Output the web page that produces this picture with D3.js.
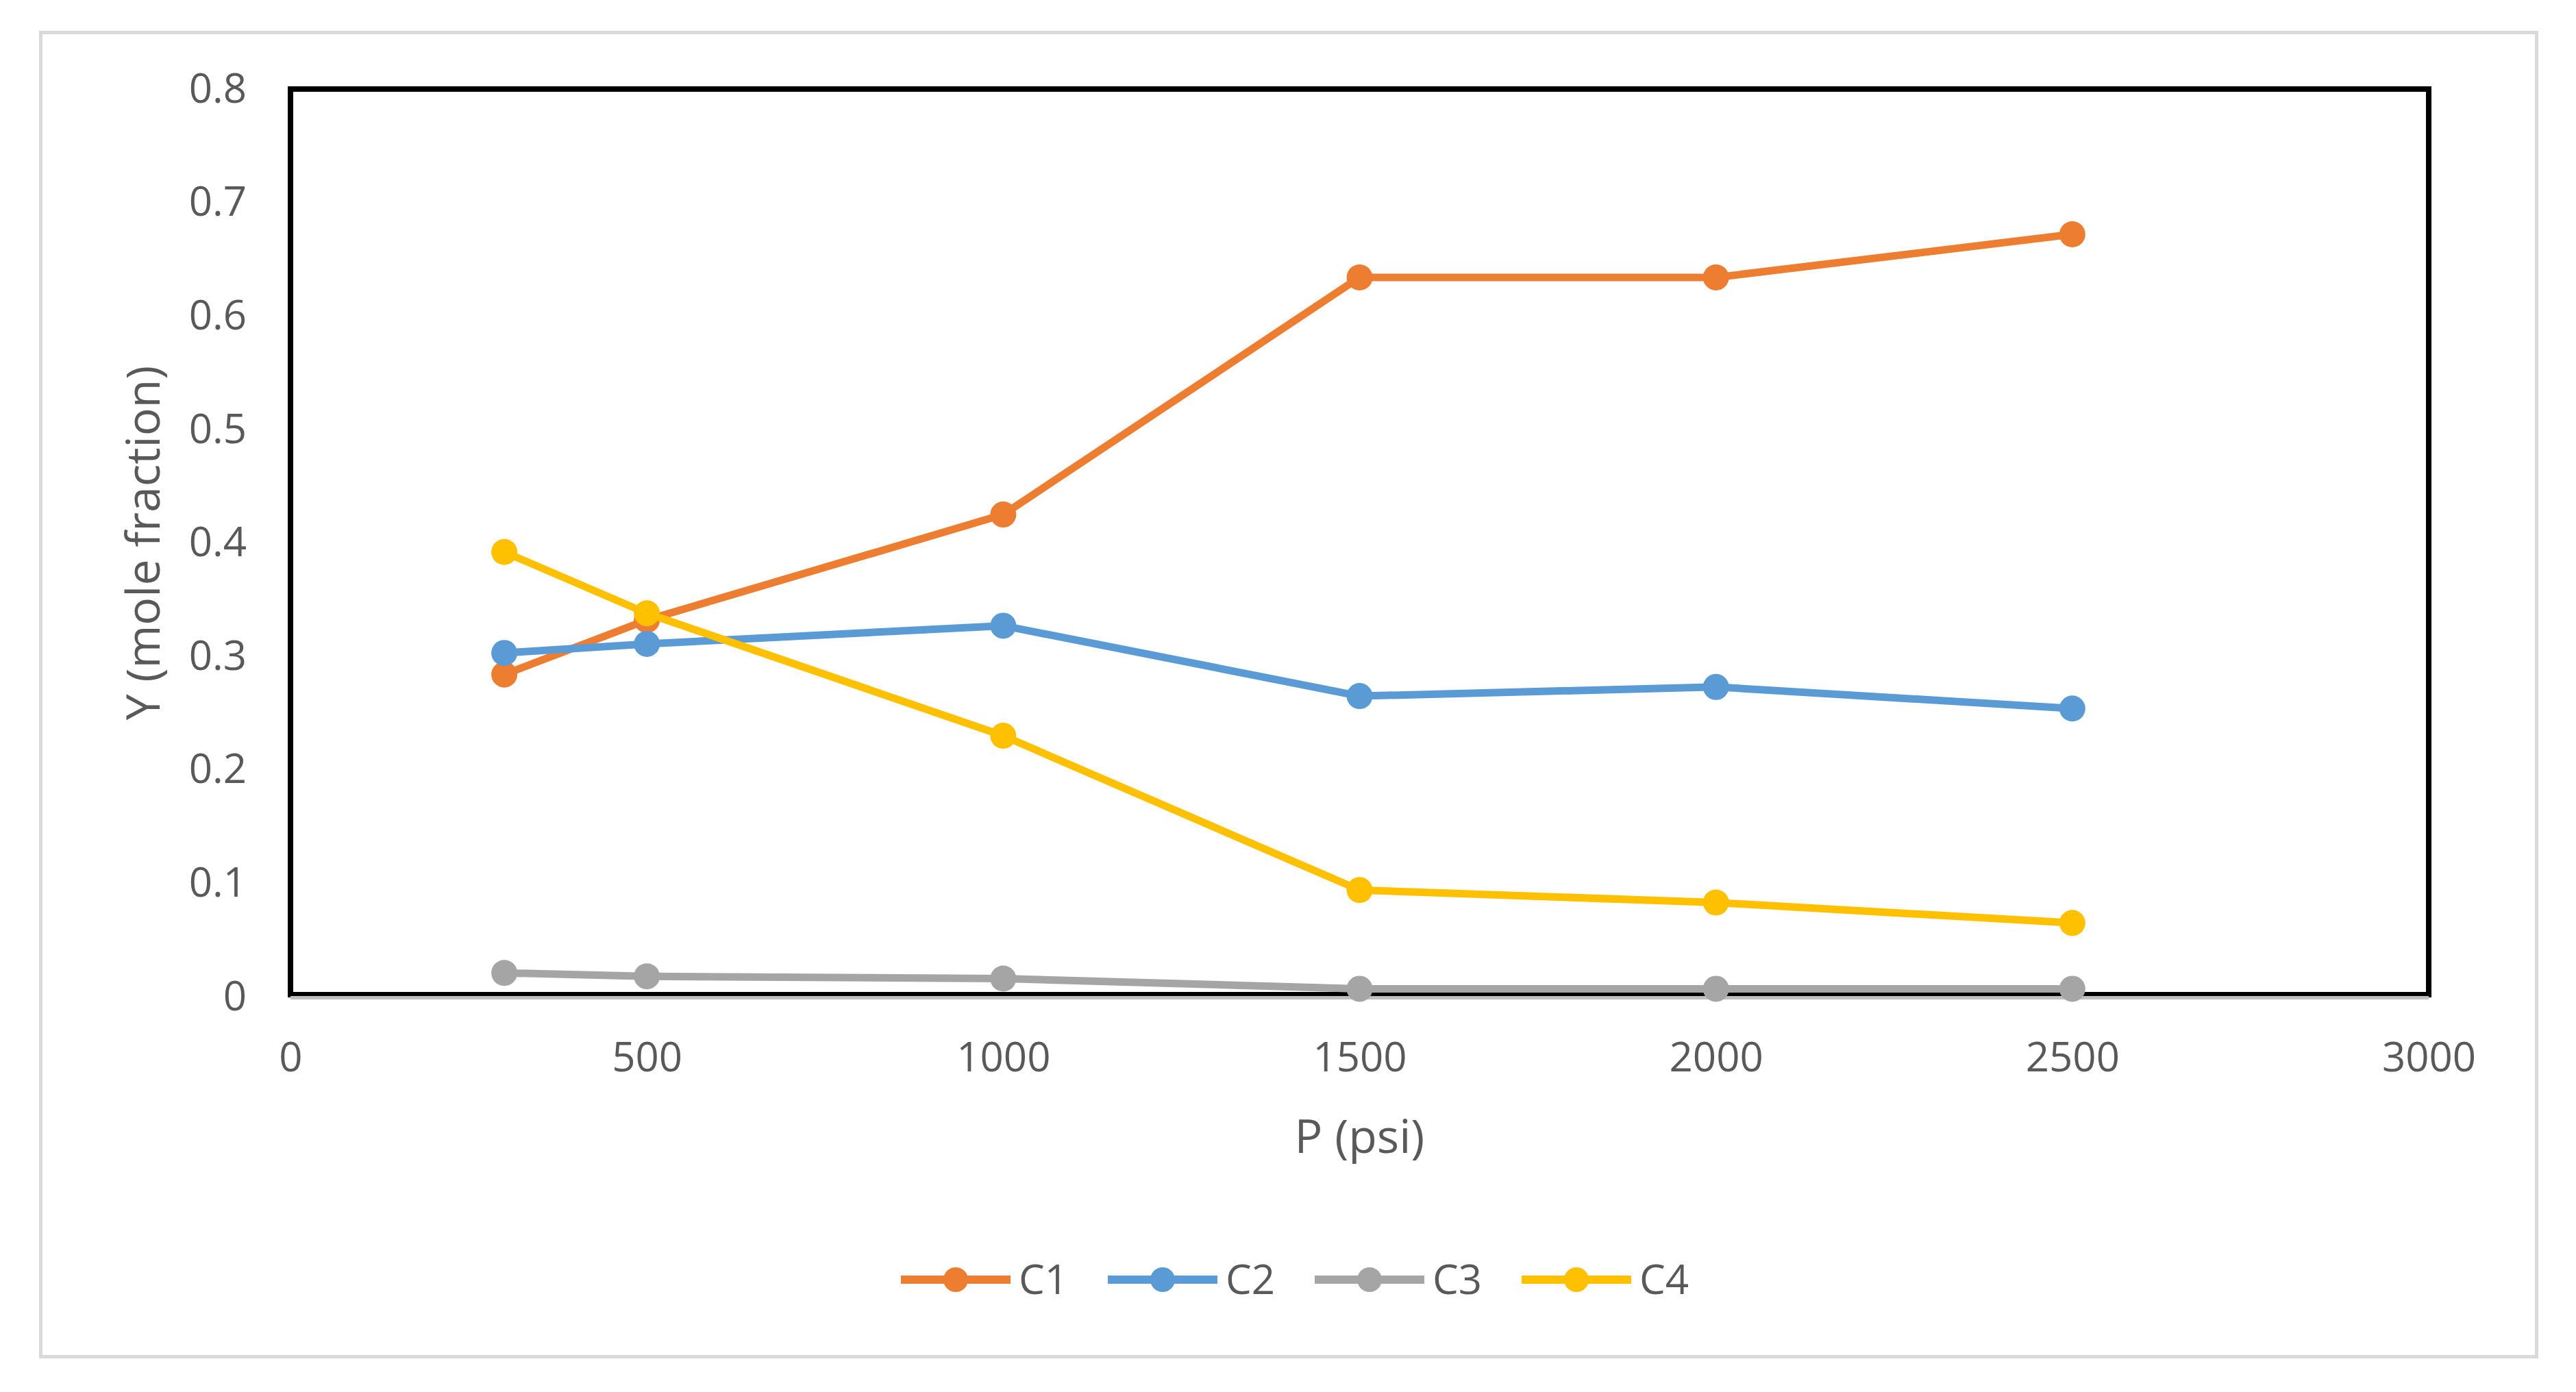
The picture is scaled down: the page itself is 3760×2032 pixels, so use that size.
<!DOCTYPE html>
<html>
<head>
<meta charset="utf-8">
<script src="https://cdn.jsdelivr.net/npm/d3@7"></script>
<style>
  html, body { margin: 0; padding: 0; background: #ffffff; }
  svg { display: block; }
</style>
</head>
<body>
<svg id="chart" width="3760" height="2032"></svg>
<script>
const pressures = [300, 500, 1000, 1500, 2000, 2500];
const seriesNames = ["C1", "C2", "C3", "C4"];
const c1 = [0.284, 0.332, 0.425, 0.634, 0.634, 0.672];
const c2 = [0.303, 0.311, 0.327, 0.265, 0.273, 0.254];
const c3 = [0.021, 0.018, 0.016, 0.007, 0.007, 0.007];
const c4 = [0.392, 0.338, 0.230, 0.094, 0.083, 0.065];
const xTicks = [0, 500, 1000, 1500, 2000, 2500, 3000];
const yTicks = [0, 0.1, 0.2, 0.3, 0.4, 0.5, 0.6, 0.7, 0.8];
const xTitle = "P (psi)";
const yTitle = "Y (mole fraction)";
const colors = ["#ED7D31", "#5B9BD5", "#A5A5A5", "#FFC000"];

const seriesValues = [c1, c2, c3, c4];
const series = seriesNames.map((name, i) => ({
  name, color: colors[i],
  points: pressures.map((p, j) => ({ p, v: seriesValues[i][j] }))
}));

const svg = d3.select("#chart");
const FONT = "'Open Sans', 'Liberation Sans', sans-serif";
const TEXT = "#595959";

// outer chart border
svg.append("rect")
  .attr("x", 59.5).attr("y", 47.5).attr("width", 3643).attr("height", 1933)
  .attr("fill", "#ffffff").attr("stroke", "#d9d9d9").attr("stroke-width", 5);

const x = d3.scaleLinear().domain([0, 3000]).range([424, 3545]);
const y = d3.scaleLinear().domain([0, 0.8]).range([1455, 130]);

// plot area frame
svg.append("rect")
  .attr("x", x(0)).attr("y", y(0.8))
  .attr("width", x(3000) - x(0)).attr("height", y(0) - y(0.8) - 3)
  .attr("fill", "none").attr("stroke", "#000000").attr("stroke-width", 8);

// gray axis line
svg.append("line")
  .attr("x1", x(0)).attr("x2", x(3000))
  .attr("y1", y(0) + 1.5).attr("y2", y(0) + 1.5)
  .attr("stroke", "#bfbfbf").attr("stroke-width", 5);

// axes
const yAxis = svg.append("g")
  .attr("transform", `translate(${x(0)},0)`)
  .call(d3.axisLeft(y).tickValues(yTicks).tickSize(0).tickPadding(64)
    .tickFormat(d => d3.format("")(+d.toFixed(1))));
const xAxis = svg.append("g")
  .attr("transform", `translate(0,${y(0)})`)
  .call(d3.axisBottom(x).tickValues(xTicks).tickSize(0).tickPadding(66)
    .tickFormat(d3.format("d")));
[xAxis, yAxis].forEach(g => {
  g.select(".domain").remove();
  g.selectAll("text").attr("font-family", FONT).attr("font-size", 60).attr("fill", TEXT);
});

// axis titles
svg.append("text")
  .attr("x", (x(0) + x(3000)) / 2).attr("y", 1659).attr("dy", "0.35em")
  .attr("text-anchor", "middle").attr("font-family", FONT).attr("font-size", 68)
  .attr("fill", TEXT).text(xTitle);
svg.append("text")
  .attr("transform", `translate(209,${(y(0) + y(0.8)) / 2}) rotate(-90)`)
  .attr("dy", "0.35em")
  .attr("text-anchor", "middle").attr("font-family", FONT).attr("font-size", 68)
  .attr("fill", TEXT).text(yTitle);

// series
const line = d3.line().x(d => x(d.p)).y(d => y(d.v));
const sg = svg.append("g").selectAll("g").data(series).join("g");
sg.append("path")
  .attr("d", d => line(d.points))
  .attr("fill", "none").attr("stroke", d => d.color)
  .attr("stroke-width", 11).attr("stroke-linejoin", "round").attr("stroke-linecap", "round");
sg.selectAll("circle").data(d => d.points.map(p => ({ ...p, color: d.color })))
  .join("circle")
  .attr("cx", d => x(d.p)).attr("cy", d => y(d.v)).attr("r", 19)
  .attr("fill", d => d.color);

// legend
const legendX0 = 1315, legendStep = 302, legendY = 1868;
const lg = svg.append("g").selectAll("g").data(series).join("g")
  .attr("transform", (d, i) => `translate(${legendX0 + i * legendStep},${legendY})`);
lg.append("line").attr("x1", 0).attr("x2", 160).attr("y1", 0).attr("y2", 0)
  .attr("stroke", d => d.color).attr("stroke-width", 12);
lg.append("circle").attr("cx", 80).attr("cy", 0).attr("r", 18).attr("fill", d => d.color);
lg.append("text").attr("x", 172).attr("y", 0).attr("dy", "0.35em")
  .attr("font-family", FONT).attr("font-size", 60).attr("fill", TEXT)
  .text(d => d.name);
</script>
</body>
</html>
